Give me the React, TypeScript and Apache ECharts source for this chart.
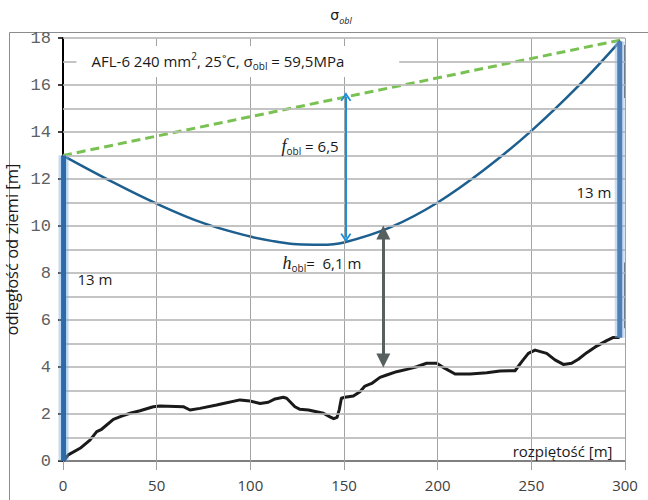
import React, { useEffect, useRef } from "react";
import * as echarts from "echarts";

// ---- data ----
const xMin = 0;
const xMax = 300;
const xInterval = 50;
const yMin = 0;
const yMax = 18;
const yInterval = 2;

// grid line positions (axis values)
const xGridValues = [50, 100, 150, 200, 250, 300];
const yGridValues = [1, 2, 3, 4, 5, 6, 7, 8, 9, 10, 11, 12, 13, 14, 15, 16, 17, 18];

const cableX = [1, 25, 50, 75, 100, 112.5, 125, 137.5, 150, 175, 200, 225, 250, 275, 297.5];
const cableY = [12.95, 11.93, 10.95, 10.12, 9.55, 9.35, 9.22, 9.2, 9.3, 9.95, 11.0, 12.4, 14.05, 15.95, 17.88];

const chordX = [0, 298];
const chordY = [13, 17.92];

const groundX = [
  0.8, 2.8, 9.1, 14.4, 18, 20.6, 26.9, 31.3, 35.8, 41.1, 48.2, 51.8, 64.2, 67.8, 73.1, 82, 85.6, 94.5,
  99.8, 105.2, 109.6, 113.2, 117.6, 119.4, 123.8, 126.5, 131, 139, 142.5, 144.5, 146.3, 147.5, 148.6,
  150.5, 155, 158.5, 161.2, 164.8, 169.2, 172.8, 178.1, 183.5, 188.8, 194.1, 199.5, 203.9, 209.3,
  217.3, 226.2, 233.3, 241.3, 244.9, 248.4, 252, 258.2, 262.6, 267.1, 271.5, 275.1, 279.6, 284.9,
  290.2, 293.8, 296.5,
];
const groundY = [
  0.05, 0.26, 0.54, 0.89, 1.25, 1.35, 1.77, 1.91, 2.03, 2.14, 2.31, 2.34, 2.31, 2.17, 2.24, 2.38, 2.45,
  2.6, 2.55, 2.45, 2.5, 2.64, 2.71, 2.67, 2.31, 2.2, 2.17, 2.03, 1.88, 1.8, 1.86, 2.2, 2.67, 2.71, 2.77,
  2.95, 3.19, 3.3, 3.56, 3.66, 3.8, 3.9, 4.01, 4.16, 4.16, 3.94, 3.7, 3.7, 3.76, 3.83, 3.84, 4.23, 4.58,
  4.72, 4.58, 4.3, 4.11, 4.16, 4.33, 4.61, 4.89, 5.12, 5.26, 5.26,
];

const leftTowerX = [0.3, 0.3];
const leftTowerY = [0, 13];
const rightTowerX = [297.2, 297.2];
const rightTowerY = [5.25, 17.85];

const rightMarkX = [300, 300];
const rightMarkUpperY = [17.7, 15.45];
const rightMarkLowerY = [8.45, 5.65];

const sagArrowX = [151, 151];
const sagArrowY = [15.5, 9.5];
const clearArrowX = [171, 171];
const clearArrowY = [9.72, 4.28];

// annotation texts and their anchor points (data coordinates)
const titleText = "{t|σ}{ts|obl}";
const noteTexts = [
  "{m|AFL-6 240 mm}{p|2}{m|, 25˚C, σ}{s|obl}{m| = 59,5MPa}",
  "{i|f}{s|obl}{m| = 6,5}",
  "{i|h}{s|obl}{m|=  6,1 m}",
  "{m|13 m}",
  "{m|13 m}",
  "{m|rozpiętość [m]}",
];
const noteX = [6.94, 116.4, 116.9, 7.47, 273.8, 293.6];
const noteY = [17.0, 13.4, 8.43, 7.74, 11.45, 0.43];

const zip = (xs: number[], ys: number[]) => xs.map((x, i) => [x, ys[i]]);

const chevron = "path://M5,0 L10,8.2 L8.6,9 L5,3.4 L1.4,9 L0,8.2 Z";

export default function App() {
  const ref = useRef<HTMLDivElement>(null);

  useEffect(() => {
    if (!ref.current) return;
    const chart = echarts.init(ref.current, undefined, { renderer: "svg" });

    const txt = "#1a1a1a";
    const sans = "Open Sans";
    const rich: any = {
      m: { fontFamily: sans, fontSize: 15, color: txt, lineHeight: 20, verticalAlign: "middle", fontWeight: "normal" },
      s: { fontFamily: sans, fontSize: 10, color: txt, verticalAlign: "bottom", fontWeight: "normal" },
      p: { fontFamily: sans, fontSize: 10, color: txt, verticalAlign: "top", fontWeight: "normal" },
      i: {
        fontFamily: "Liberation Serif",
        fontStyle: "italic",
        fontWeight: "normal",
        fontSize: 18,
        color: txt,
        lineHeight: 20,
        verticalAlign: "middle",
      },
      t: {
        fontFamily: "DejaVu Sans",
        fontSize: 14,
        color: txt,
        lineHeight: 20,
        verticalAlign: "middle",
        fontWeight: "normal",
      },
      ts: {
        fontFamily: sans,
        fontStyle: "italic",
        fontSize: 9,
        color: txt,
        verticalAlign: "bottom",
        fontWeight: "normal",
      },
    };

    const towerLines = (name: string, xs: number[], ys: number[], core: string, glow: string) => [
      {
        type: "line",
        name: name + "Glow",
        data: zip(xs, ys),
        showSymbol: false,
        symbol: "none",
        lineStyle: { color: glow, width: 10 },
        z: 5,
        silent: true,
      },
      {
        type: "line",
        name,
        data: zip(xs, ys),
        showSymbol: false,
        symbol: "none",
        lineStyle: { color: core, width: 5 },
        z: 6,
        silent: true,
      },
    ];

    const notePoints = noteTexts.map((t, i) => {
      const isBox = i === 0;
      const isRight = i === noteTexts.length - 1;
      return {
        coord: [noteX[i], noteY[i]],
        symbol: "circle",
        symbolSize: 1,
        itemStyle: { color: "rgba(0,0,0,0)" },
        label: {
          show: true,
          position: isRight ? "left" : "right",
          distance: 0,
          formatter: t,
          rich,
          color: txt,
          ...(isBox ? { backgroundColor: "#ffffff", padding: [5, 55, 6, 15] } : {}),
        },
      };
    });

    const gridLines = [
      ...xGridValues.map((v) => ({ xAxis: v, lineStyle: { color: "#a3a3a3", width: 1, type: "solid" } })),
      ...yGridValues.map((v) => ({ yAxis: v, lineStyle: { color: "#c0c0c0", width: 1.5, type: "solid" } })),
    ];

    const option: any = {
      animation: false,
      title: {
        text: titleText,
        left: 341,
        top: 5,
        padding: 0,
        textAlign: "center",
        textStyle: { rich, fontSize: 14, fontWeight: "normal", color: txt },
      },
      grid: { left: 63, right: 23, top: 38, bottom: 39, outerBoundsMode: "none" },
      xAxis: {
        type: "value",
        min: xMin,
        max: xMax,
        interval: xInterval,
        axisLine: { show: true, lineStyle: { color: "#808080", width: 2 } },
        axisTick: { show: true, length: 9, lineStyle: { color: "#a0a0a0", width: 1 } },
        axisLabel: { margin: 16, fontFamily: sans, fontSize: 15, color: "#404040" },
        splitLine: { show: true, lineStyle: { color: "#a3a3a3", width: 1 } },
      },
      yAxis: {
        type: "value",
        min: yMin,
        max: yMax,
        interval: yInterval,
        name: "odległość od ziemi [m]",
        nameLocation: "middle",
        nameGap: 41,
        nameTextStyle: { fontFamily: sans, fontSize: 16.5, color: "#1a1a1a" },
        axisLine: { show: true, lineStyle: { color: "#000", width: 2 } },
        axisTick: { show: true, length: 5, lineStyle: { color: "#000", width: 1.5 } },
        axisLabel: { margin: 12, fontFamily: "Liberation Mono", fontSize: 17, color: "#606060" },
        splitLine: { show: true, lineStyle: { color: "#c0c0c0", width: 1.5 } },
        minorTick: { show: false, splitNumber: 2 },
        minorSplitLine: { show: true, lineStyle: { color: "#c0c0c0", width: 1.5 } },
      },
      graphic: [
        {
          type: "polyline",
          silent: true,
          shape: { points: [[700, 32.5], [9.5, 32.5], [9.5, 520]] },
          style: { stroke: "#8c8c8c", lineWidth: 1, fill: null },
        },
      ],
      series: [
        {
          type: "line",
          name: "gridlines",
          data: [],
          silent: true,
          z: 1,
          markLine: {
            silent: true,
            animation: false,
            symbol: ["none", "none"],
            label: { show: false },
            emphasis: { disabled: true },
            data: gridLines,
          },
        },
        {
          type: "line",
          name: "ground",
          data: zip(groundX, groundY),
          showSymbol: false,
          symbol: "none",
          lineStyle: { color: "#1a1a1a", width: 3, join: "round", cap: "round" },
          z: 3,
          silent: true,
        },
        {
          type: "line",
          name: "chord",
          data: zip(chordX, chordY),
          showSymbol: false,
          symbol: "none",
          lineStyle: { color: "#79c152", width: 3, type: [9, 5] },
          z: 3,
          silent: true,
        },
        {
          type: "line",
          name: "cable",
          data: zip(cableX, cableY),
          smooth: 0.4,
          showSymbol: false,
          symbol: "none",
          lineStyle: { color: "#1d5f8f", width: 2.5 },
          z: 4,
          silent: true,
        },
        ...towerLines("leftTower", leftTowerX, leftTowerY, "#2d6aa9", "rgba(120,170,225,0.45)"),
        ...towerLines("rightTower", rightTowerX, rightTowerY, "#4f7fb8", "rgba(150,185,225,0.5)"),
        {
          type: "line",
          name: "rightMarkUpper",
          data: zip(rightMarkX, rightMarkUpperY),
          showSymbol: false,
          symbol: "none",
          lineStyle: { color: "#222", width: 1.5 },
          z: 4,
          silent: true,
        },
        {
          type: "line",
          name: "rightMarkLower",
          data: zip(rightMarkX, rightMarkLowerY),
          showSymbol: false,
          symbol: "none",
          lineStyle: { color: "#222", width: 1.5 },
          z: 4,
          silent: true,
        },
        {
          type: "line",
          name: "arrows",
          data: [],
          silent: true,
          markLine: {
            silent: true,
            animation: false,
            label: { show: false },
            emphasis: { disabled: true },
            data: [
              [
                {
                  coord: [sagArrowX[0], sagArrowY[0]],
                  symbol: chevron,
                  symbolSize: [11, 9],
                  lineStyle: { color: "#1e8fd5", width: 2, type: "solid" },
                },
                { coord: [sagArrowX[1], sagArrowY[1]], symbol: chevron, symbolSize: [11, 9] },
              ],
              [
                {
                  coord: [clearArrowX[0], clearArrowY[0]],
                  symbol: "triangle",
                  symbolSize: [14, 14],
                  lineStyle: { color: "#56605f", width: 3, type: "solid" },
                },
                { coord: [clearArrowX[1], clearArrowY[1]], symbol: "triangle", symbolSize: [14, 14] },
              ],
            ],
          },
        },
        {
          type: "line",
          name: "notes",
          data: [],
          silent: true,
          z: 10,
          markPoint: {
            silent: true,
            animation: false,
            emphasis: { disabled: true },
            data: notePoints,
          },
        },
      ],
    };

    chart.setOption(option);
    return () => chart.dispose();
  }, []);

  return <div ref={ref} style={{ width: 648, height: 500, position: "absolute", left: 0, top: 0 }} />;
}
